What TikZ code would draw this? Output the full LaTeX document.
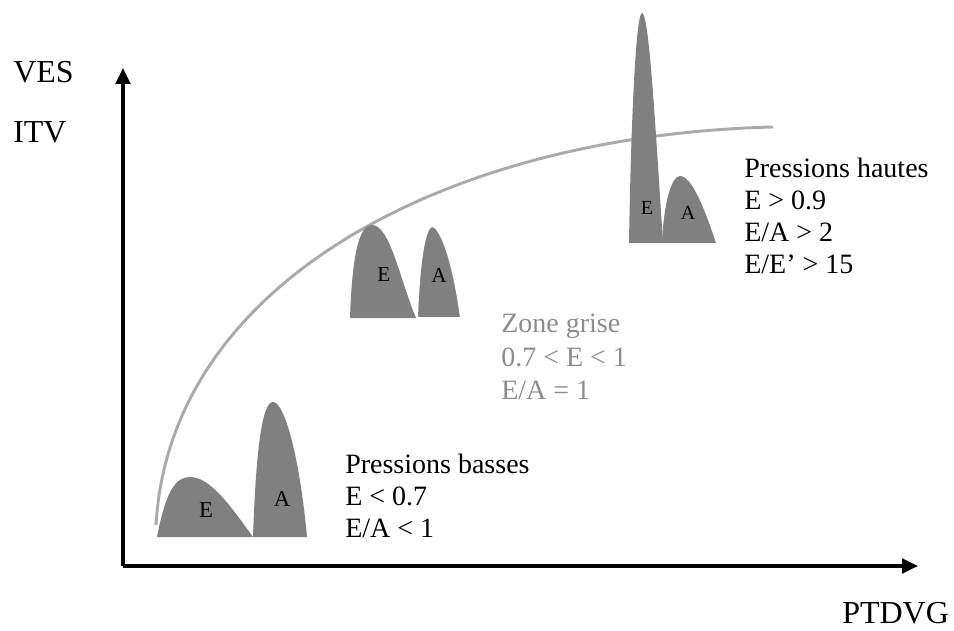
\documentclass[tikz,border=0pt]{standalone}
\usepackage{fontspec}
\setmainfont{Liberation Serif}
\usetikzlibrary{arrows.meta}
\definecolor{peakgray}{RGB}{128,128,128}
\definecolor{curvegray}{RGB}{170,170,170}
\definecolor{textgray}{RGB}{140,140,140}
\tikzset{
  axis/.style={line width=2.4pt,-{Triangle[length=12pt,width=11pt]}},
  peak/.style={fill=peakgray,draw=none},
  peaklbl/.style={inner sep=0pt},
  bigtxt/.style={font=\fontsize{21}{25}\selectfont,anchor=base west,inner sep=0pt},
  axtxt/.style={font=\fontsize{24}{28}\selectfont,anchor=base west,inner sep=0pt},
}
\begin{document}
\begin{tikzpicture}[x=0.75pt,y=-0.75pt]
\useasboundingbox (0,0) rectangle (954,631);
% axes
\coordinate (O) at (123,566);
\coordinate (Ytop) at (123,68);
\coordinate (Xend) at (918,566);
\draw[axis] (O) -- (Ytop);
\draw[axis] (O) -- (Xend);
% curve
\coordinate (c0) at (156,525);
\coordinate (c1) at (773,127);
\draw[curvegray,line width=2.2pt] (c0) .. controls (170,280) and (450,135) .. (c1);
% group 1
\fill[peak] (157,537) .. controls (166,490) and (176,477) .. (190,477) .. controls (210,477) and (230,505) .. (253,537) -- cycle;
\fill[peak] (253,537) .. controls (256,450) and (262,402) .. (273,402) .. controls (285,402) and (300,460) .. (307,537) -- cycle;
\node[peaklbl,font=\fontsize{17}{19}\selectfont] (e1) at (206,510) {E};
\node[peaklbl,font=\fontsize{17}{19}\selectfont] (a1) at (282,499) {A};
% group 2
\fill[peak] (350,318) .. controls (352,260) and (358,225) .. (372,225) .. controls (390,225) and (400,280) .. (416,318) -- cycle;
\filldraw[peak,draw=white,line width=1.5pt] (417,318) .. controls (419,260) and (425,226) .. (432,226) .. controls (442,226) and (455,270) .. (461,318) -- cycle;
\node[peaklbl,font=\fontsize{16}{18}\selectfont] (e2) at (384,275) {E};
\node[peaklbl,font=\fontsize{16}{18}\selectfont] (a2) at (439,275) {A};
% group 3
\fill[peak] (629,243) .. controls (631,120) and (636,13) .. (642,13) .. controls (649,13) and (655,120) .. (663,243) -- cycle;
\fill[peak] (662,243) .. controls (664,200) and (672,176) .. (680,176) .. controls (692,176) and (705,210) .. (716,243) -- cycle;
\node[peaklbl,font=\fontsize{15}{17}\selectfont] (e3) at (647,208) {E};
\node[peaklbl,font=\fontsize{15}{17}\selectfont] (a3) at (688,213) {A};
% axis labels
\node[axtxt] (ves) at (13,83) {VES};
\node[axtxt] (itv) at (13,143) {ITV};
\node[axtxt] (ptdvg) at (842,623) {PTDVG};
% text blocks
\node[bigtxt] (h1) at (744,178) {Pressions hautes};
\node[bigtxt] (h2) at (744,210) {E > 0.9};
\node[bigtxt] (h3) at (744,242) {E/A > 2};
\node[bigtxt] (h4) at (744,273) {E/E’ > 15};
\node[bigtxt,text=textgray] (z1) at (501,333) {Zone grise};
\node[bigtxt,text=textgray] (z2) at (501,366) {0.7 < E < 1};
\node[bigtxt,text=textgray] (z3) at (501,399) {E/A = 1};
\node[bigtxt] (b1) at (345,473) {Pressions basses};
\node[bigtxt] (b2) at (345,505) {E < 0.7};
\node[bigtxt] (b3) at (345,537) {E/A < 1};
\end{tikzpicture}
\end{document}
